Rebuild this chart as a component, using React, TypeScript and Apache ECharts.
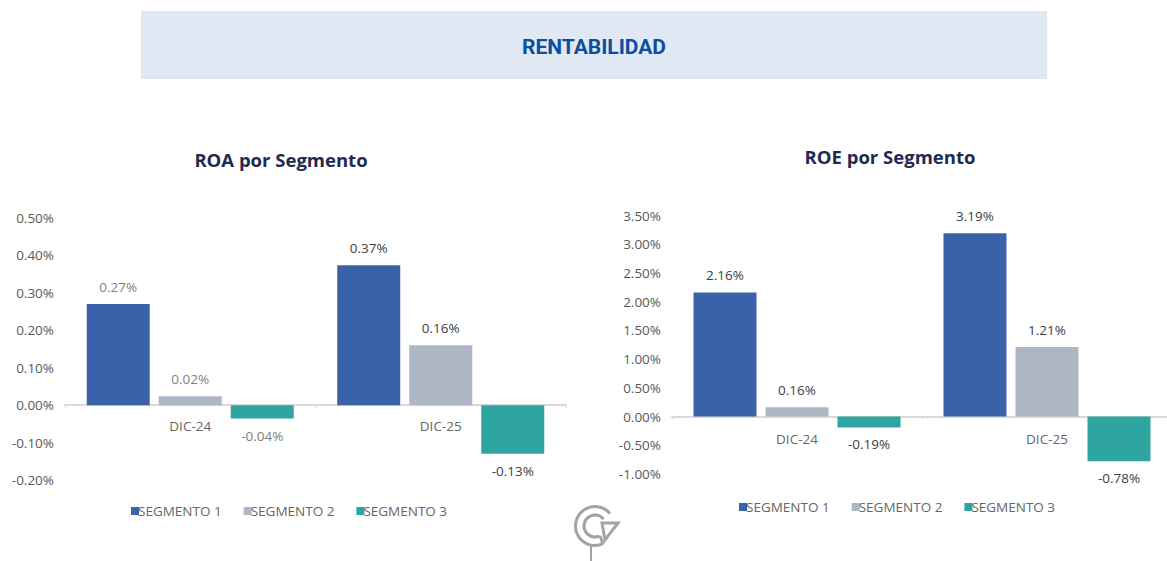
import React, { useEffect, useRef } from "react";
import * as echarts from "echarts";

const categories = ["DIC-24", "DIC-25"];
const segments = ["SEGMENTO 1", "SEGMENTO 2", "SEGMENTO 3"];
const roaSeg1 = [0.27, 0.374];
const roaSeg2 = [0.024, 0.16];
const roaSeg3 = [-0.036, -0.13];
const roeSeg1 = [2.16, 3.19];
const roeSeg2 = [0.16, 1.21];
const roeSeg3 = [-0.19, -0.78];
const colors = ["#3a62ab", "#adb6c4", "#2ea5a0"];
const roaLabelColors = ["#808080", "#404040"];
const roeLabelColors = ["#404040", "#404040"];

const FONT = "'Open Sans', sans-serif";
const pct = (v: number) => v.toFixed(2) + "%";

function barSeries(name: string, values: number[], color: string, idx: number, labelColors: string[]) {
  return {
    type: "bar",
    name,
    xAxisIndex: idx,
    yAxisIndex: idx,
    barWidth: 63,
    barGap: "14.3%",
    itemStyle: { color },
    data: values.map((value, i) => ({
      value,
      label: { color: labelColors[i] },
    })),
    label: {
      show: true,
      position: "outside",
      distance: 10,
      fontFamily: FONT,
      fontSize: 13.5,
      formatter: (p: any) => pct(p.value),
    },
  };
}

const xAxis = (gridIndex: number, margin: number) => ({
  type: "category",
  gridIndex,
  data: categories,
  axisLine: { onZero: true, lineStyle: { color: "#d9d9d9", width: 2 } },
  axisTick: { show: true, length: 3, lineStyle: { color: "#d9d9d9" } },
  axisLabel: { color: "#666666", fontFamily: FONT, fontSize: 13.5, margin },
});

const yAxis = (gridIndex: number, min: number, max: number, interval: number, labelPadding: number[]) => ({
  type: "value",
  gridIndex,
  min,
  max,
  interval,
  splitLine: { show: false },
  axisLine: { show: false },
  axisTick: { show: false },
  axisLabel: {
    color: "#595959",
    fontFamily: FONT,
    fontSize: 13.5,
    margin: 11,
    padding: labelPadding,
    formatter: pct,
  },
});

const legend = (left: number, top: number) => ({
  left,
  top,
  data: segments,
  icon: "rect",
  itemWidth: 8,
  itemHeight: 8,
  itemGap: 22,
  selectedMode: false,
  textStyle: { color: "#666666", fontFamily: FONT, fontSize: 13.5, padding: [0, 0, 0, -6] },
});

const heading = (text: string, x: number, y: number) => ({
  text,
  left: x,
  top: y,
  textAlign: "center",
  textStyle: { color: "#1f2a52", fontFamily: FONT, fontWeight: "bold", fontSize: 18.5 },
});

const deg = (d: number) => (d * Math.PI) / 180;
const logoStroke = { stroke: "#a3a3a3", fill: "none", lineWidth: 3 };

export default function App() {
  const ref = useRef<HTMLDivElement>(null);
  useEffect(() => {
    document.body.style.margin = "0";
    const chart = echarts.init(ref.current!, null, { renderer: "svg" });
    chart.setOption({
      animation: false,
      backgroundColor: "#ffffff",
      title: [
        {
          text: "RENTABILIDAD",
          left: 589,
          top: 31,
          textAlign: "center",
          textStyle: { color: "#0b4ea2", fontFamily: "Roboto, sans-serif", fontWeight: "bold", fontSize: 21 },
        },
        heading("ROA por Segmento", 276, 145),
        heading("ROE por Segmento", 885, 142),
      ],
      legend: [legend(126, 499), legend(734, 495)],
      grid: [
        { left: 65, top: 218, width: 501, height: 262 },
        { left: 672, top: 215.5, width: 500, height: 258.5 },
      ],
      xAxis: [xAxis(0, -61), xAxis(1, -42)],
      yAxis: [
        yAxis(0, -0.2, 0.5, 0.1, [0, 0, 3, 0]),
        yAxis(1, -1, 3.5, 0.5, [0, 0, 0, 0]),
      ],
      series: [
        barSeries(segments[0], roaSeg1, colors[0], 0, roaLabelColors),
        barSeries(segments[1], roaSeg2, colors[1], 0, roaLabelColors),
        barSeries(segments[2], roaSeg3, colors[2], 0, roaLabelColors),
        barSeries(segments[0], roeSeg1, colors[0], 1, roeLabelColors),
        barSeries(segments[1], roeSeg2, colors[1], 1, roeLabelColors),
        barSeries(segments[2], roeSeg3, colors[2], 1, roeLabelColors),
      ],
      graphic: [
        { type: "rect", z: -1, shape: { x: 141, y: 11, width: 906, height: 68 }, style: { fill: "#dfe8f3" } },
        { type: "arc", shape: { cx: 595, cy: 526, r: 19.5, startAngle: deg(65), endAngle: deg(320), clockwise: true }, style: logoStroke },
        { type: "arc", shape: { cx: 595, cy: 526, r: 11, startAngle: deg(65), endAngle: deg(320), clockwise: true }, style: logoStroke },
        { type: "line", shape: { x1: 603, y1: 544, x2: 600, y2: 536 }, style: { stroke: "#a3a3a3", lineWidth: 3 } },
        { type: "polygon", shape: { points: [[602, 523], [618, 523], [605, 540]] }, style: { stroke: "#a3a3a3", fill: "#ffffff", lineWidth: 3 } },
        { type: "line", shape: { x1: 591, y1: 546, x2: 591, y2: 561 }, style: { stroke: "#a3a3a3", lineWidth: 2 } },
      ],
    });
    return () => chart.dispose();
  }, []);
  return (
    <div style={{ width: 1167, height: 561, overflow: "hidden" }}>
      <div ref={ref} style={{ width: 1185, height: 561 }} />
    </div>
  );
}
